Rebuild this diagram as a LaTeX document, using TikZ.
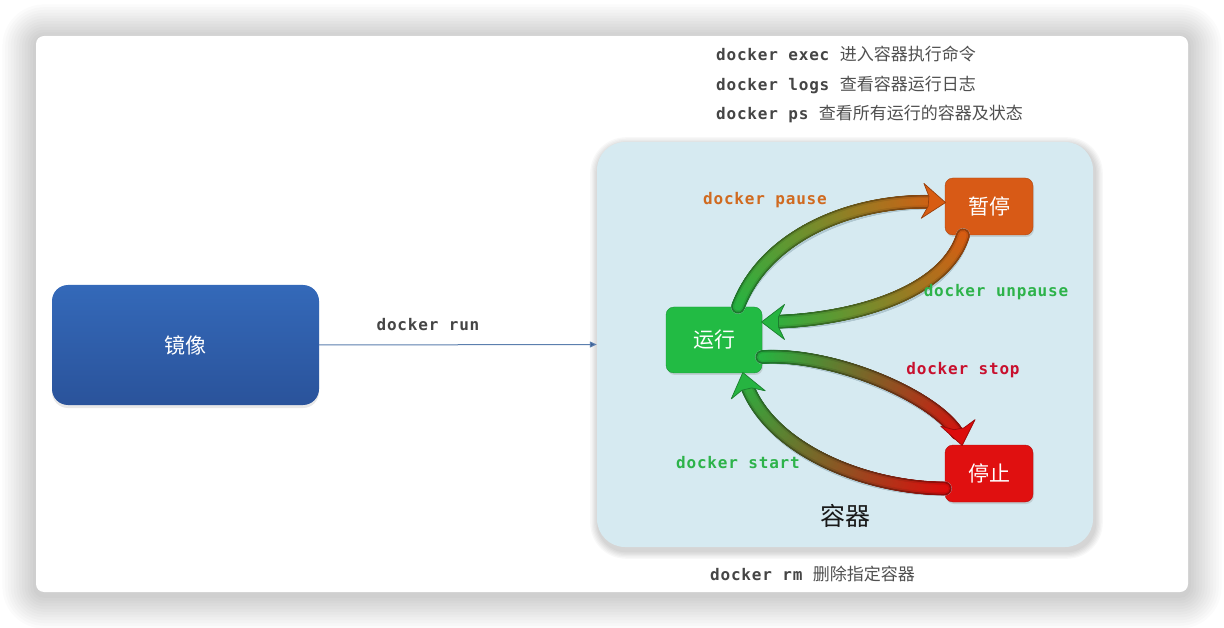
\documentclass[tikz,border=0pt]{standalone}
\usepackage{fontspec}
\newfontfamily\cjk{Noto Sans CJK SC}
\newfontfamily\mono{DejaVu Sans Mono}[LetterSpace=5]
\usetikzlibrary{decorations.markings,arrows.meta,shadows}
\definecolor{cgreen}{HTML}{26B441}
\definecolor{boxgreen}{HTML}{22BB44}
\definecolor{corange}{HTML}{D85C12}
\definecolor{boxorange}{HTML}{D85A16}
\definecolor{cred}{HTML}{DC0C0C}
\definecolor{boxred}{HTML}{E01010}
\definecolor{lblorange}{HTML}{D06A20}
\definecolor{lblgreen}{HTML}{2DB34A}
\definecolor{lblred}{HTML}{C8102E}
\definecolor{contbg}{HTML}{D6EAF1}
\definecolor{shadowc}{HTML}{B0C8D1}
\definecolor{imgtop}{HTML}{3469B9}
\definecolor{imgbot}{HTML}{2A539B}
\definecolor{linec}{HTML}{5B7FAE}
\definecolor{tipc}{HTML}{3D5F96}
\definecolor{txtgray}{HTML}{454545}
\definecolor{cjkgray}{HTML}{505050}
\tikzset{
  cmd/.style={inner sep=0pt, font=\fontsize{16}{19}\selectfont\mono\bfseries},
  cjktext/.style={inner sep=0pt, font=\fontsize{16}{19}\selectfont},
  statebox/.style={rounded corners=8pt, inner sep=0pt, minimum width=88pt, minimum height=57pt,
     text=white, font=\cjk\fontsize{21}{24}\selectfont,
     drop shadow={opacity=0.25, shadow xshift=1pt, shadow yshift=-2pt}},
  imgbox/.style={rounded corners=16pt, inner sep=0pt, minimum width=267pt, minimum height=120pt,
     top color=imgtop, bottom color=imgbot, text=white, font=\cjk\fontsize{21}{24}\selectfont,
     drop shadow={opacity=0.18, shadow xshift=0pt, shadow yshift=-3pt}},
  runline/.style={draw=linec, line width=1pt, -{Triangle[length=7pt,width=6pt,fill=tipc]}},
  band/.style n args={4}{postaction={decorate,decoration={markings,
     mark=between positions 0 and -14pt step 0.8pt with {%
       \pgfmathtruncatemacro\gp{100*(\pgfkeysvalueof{/pgf/decoration/mark info/distance from start}/\pgfdecoratedpathlength)}%
       \colorlet{gc}{#2!\gp!#1}%
       \fill[gc!#4!black] (0,0) circle (#3pt);}}}},
  sband/.style={postaction={decorate,decoration={markings,
     mark=between positions 0 and -14pt step 1pt with {\fill[shadowc] (0,0) circle (7pt);},
     mark=at position -0.3pt with {\fill[shadowc] (2,0) -- (-23,-19) -- (-17,-6) -- (-17,6) -- (-23,19) -- cycle;}}}},
  ahead/.style={postaction={decorate,decoration={markings,
     mark=at position -0.3pt with {\filldraw[fill=#1,draw=#1!70!black,line width=0.7pt,line join=round]
        (1,0) -- (-22,-17.5) -- (-16,-5) -- (-16,5) -- (-22,17.5) -- cycle;}}}},
  gradarrow/.style 2 args={band={#1}{#2}{6.8}{68}, band={#1}{#2}{5.2}{92}, band={#1}{#2}{3.6}{100}, ahead=#2},
}
\begin{document}
\begin{tikzpicture}[x=1pt,y=-1pt]
\useasboundingbox (0,0) rectangle (1224,628);
\fill[white] (0,0) rectangle (1224,628);
% card shadow
\foreach \i in {1,...,12}{
  \pgfmathsetmacro\d{2.8*\i}
  \pgfmathsetmacro\rr{8+2.8*\i}
  \fill[black,opacity=0.016,rounded corners=\rr pt] (36-\d,38-\d) rectangle (1188+\d,595+\d);
}
\fill[white,rounded corners=8pt] (36,36) rectangle (1188,592);
% container shadow
\foreach \i in {1,...,6}{
  \pgfmathsetmacro\d{1.3*\i}
  \pgfmathsetmacro\rr{28+1.3*\i}
  \fill[black,opacity=0.028,rounded corners=\rr pt] (598-\d,145-\d) rectangle (1095+\d,551+\d);
}
\node[fill=contbg, rounded corners=28pt, minimum width=496pt, minimum height=405pt, inner sep=0pt] (cont) at (845,344.5) {};
\node[inner sep=0pt, font=\cjk\fontsize{25}{28}\selectfont, text=black!90] (contlbl) at (845,516) {容器};

% image box and run arrow
\node[imgbox] (img) at (185.5,345) {镜像};
\draw[runline] (img.east) -- (cont.west);
\node[cmd, text=txtgray] (runlbl) at (428,325) {docker run};

% state boxes
\node[statebox, fill=boxgreen, draw=boxgreen!80!black, minimum width=96pt, minimum height=66pt] (run) at (714,340) {运行};
\node[statebox, fill=boxorange, draw=boxorange!80!black] (pbox) at (989,206.5) {暂停};
\node[statebox, fill=boxred, draw=boxred!80!black] (sbox) at (989,473.5) {停止};

% shadows of arrows
\path[shift={(1.5,2.5)}, sband] ([xshift=24pt]run.north) .. controls (766,232) and (860,196) .. ([yshift=4pt]pbox.west);
\path[shift={(1.5,2.5)}, sband] ([xshift=-26pt]pbox.south) .. controls (945,294) and (850,322) .. ([yshift=18pt]run.east);
\path[shift={(1.5,2.5)}, sband] ([yshift=-17pt]run.east) .. controls (840,352) and (955,405) .. ([xshift=-27pt]sbox.north);
\path[shift={(1.5,2.5)}, sband] ([yshift=-15pt]sbox.west) .. controls (860,488) and (760,445) .. ([xshift=29pt]run.south);

% gradient arrows
\path[gradarrow={cgreen}{corange}] ([xshift=24pt]run.north) .. controls (766,232) and (860,196) .. ([yshift=4pt]pbox.west);
\path[gradarrow={corange}{cgreen}] ([xshift=-26pt]pbox.south) .. controls (945,294) and (850,322) .. ([yshift=18pt]run.east);
\path[gradarrow={cgreen}{cred}] ([yshift=-17pt]run.east) .. controls (840,352) and (955,405) .. ([xshift=-27pt]sbox.north);
\path[gradarrow={cred}{cgreen}] ([yshift=-15pt]sbox.west) .. controls (860,488) and (760,445) .. ([xshift=29pt]run.south);

% labels in container
\node[cmd, text=lblorange] (lpause) at (765,200) {docker pause};
\node[cmd, text=lblgreen] (lunpause) at (996,292) {docker unpause};
\node[cmd, text=lblred] (lstop) at (963,370) {docker stop};
\node[cmd, text=lblgreen] (lstart) at (738,463) {docker start};

% commands text
\node[cjktext, anchor=west] (cexec) at (716,54) {\color{txtgray}\mono\bfseries docker exec \color{cjkgray}\cjk\mdseries\fontsize{17}{19}\selectfont 进入容器执行命令};
\node[cjktext, anchor=west] (clogs) at (716,85) {\color{txtgray}\mono\bfseries docker logs \color{cjkgray}\cjk\mdseries\fontsize{17}{19}\selectfont 查看容器运行日志};
\node[cjktext, anchor=west] (cps) at (716,114) {\color{txtgray}\mono\bfseries docker ps \color{cjkgray}\cjk\mdseries\fontsize{17}{19}\selectfont 查看所有运行的容器及状态};
\node[cjktext, anchor=west] (crm) at (710,574) {\color{txtgray}\mono\bfseries docker rm \color{cjkgray}\cjk\mdseries\fontsize{17}{19}\selectfont 删除指定容器};
\end{tikzpicture}
\end{document}
